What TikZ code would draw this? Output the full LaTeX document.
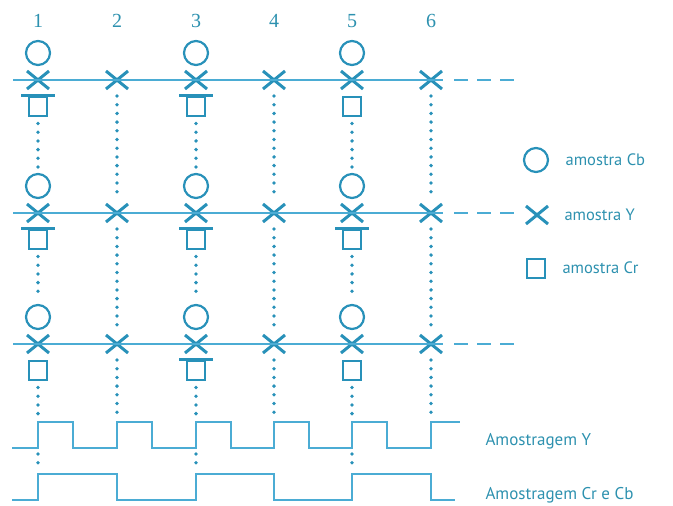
\documentclass[tikz,border=0pt]{standalone}
\usepackage{fontspec}
\setmainfont{PT Sans}
\newfontfamily\numfont{Liberation Serif}
\usetikzlibrary{shapes.misc,positioning}
\definecolor{cyanline}{RGB}{75,172,212}
\definecolor{cyanmark}{RGB}{40,145,185}
\definecolor{cyantext}{RGB}{45,145,175}
\tikzset{
  ymark/.style={cross out,draw=cyanmark,line width=3pt,minimum width=19pt,minimum height=15pt,inner sep=0pt},
  cbmark/.style={circle,draw=cyanmark,line width=2.2pt,minimum size=24pt,inner sep=0pt},
  crmark/.style={rectangle,draw=cyanmark,line width=2pt,minimum width=18pt,minimum height=19pt,inner sep=0pt},
  rowline/.style={cyanline,line width=2.2pt},
  dotline/.style={cyanmark,line width=3.8pt,line cap=round,dash pattern=on 0pt off 8.7pt,shorten <=7pt,shorten >=5pt},
  pulse/.style={cyanline,line width=2.3pt},
  lbl/.style={text=cyantext,font=\fontsize{16.5}{19}\selectfont,anchor=west},
  siglbl/.style={text=cyantext,font=\fontsize{17}{20}\selectfont,anchor=west},
  collbl/.style={text=cyantext,font=\numfont\fontsize{20}{22}\selectfont},
}
\begin{document}
\begin{tikzpicture}[x=1pt,y=-1pt]
\useasboundingbox (0,0) rectangle (673,506);
% column numbers and sample marks
\foreach \c/\x in {1/38,2/117,3/196,4/274,5/352,6/431}{
  \node[collbl] (n\c) at (\x,21) {\c};
  \foreach \r/\y in {1/80,2/213,3/344}
    \node[ymark] (y\c\r) at (\x,\y) {};
  \coordinate (b\c) at (\x,420);
}
\foreach \c/\x in {1/38,3/196,5/352}{
  \foreach \r/\y in {1/80,2/213,3/344}{
    \node[cbmark] (o\c\r) at (\x,\y-27) {};
    \node[crmark] (q\c\r) at (\x,\y+26) {};
  }
  \coordinate (s\c) at (\x,454);
  \coordinate (t\c) at (\x,470);
}
% bars over the Cr squares
\foreach \q in {q11,q12,q31,q32,q33,q52}
  \draw[cyanmark,line width=2.2pt] ([xshift=-7pt]\q.north west) -- ([xshift=7pt]\q.north east);
% rows
\foreach \r/\y in {1/80,2/213,3/344}{
  \coordinate (a\r) at (13,\y);
  \coordinate (e\r) at (515,\y);
  \draw[rowline] (a\r) -- (y1\r.center) -- (y2\r.center) -- (y3\r.center) -- (y4\r.center) -- (y5\r.center) -- (y6\r.center) -- ++(12,0);
  \draw[rowline,dash pattern=on 14pt off 9pt] ([xshift=23pt]y6\r.center) -- (e\r);
}
% dotted columns
\foreach \c in {1,3,5}{
  \draw[dotline] (q\c1) -- (o\c2);
  \draw[dotline] (q\c2) -- (o\c3);
  \draw[dotline] (q\c3) -- (b\c);
  \draw[dotline,shorten <=0pt,shorten >=0pt] (s\c) -- (t\c);
}
\foreach \c in {2,4,6}{
  \draw[dotline] (y\c1) -- (y\c2);
  \draw[dotline] (y\c2) -- (y\c3);
  \draw[dotline] (y\c3) -- (b\c);
}
% sampling signals
\draw[pulse] (12,448) \foreach \x in {38,117,196,274,352} { -- (\x,448) -- (\x,422) -- (\x+35,422) -- (\x+35,448) } -- (431,448) -- (431,422) -- (460,422);
\draw[pulse] (12,500) -- (38,500) -- (38,474) -- (117,474) -- (117,500) -- (196,500) -- (196,474) -- (274,474) -- (274,500) -- (352,500) -- (352,474) -- (431,474) -- (431,500) -- (455,500);
\node[siglbl] (ampy) at (482,441) {Amostragem Y};
\node[siglbl] (ampc) at (482,495) {Amostragem Cr e Cb};
% legend
\node[cbmark] (legcb) at (536,160) {};
\node[ymark] (legy) at (537,215) {};
\node[crmark] (legcr) at (536,268) {};
\node[lbl,right=13pt of legcb] (txtcb) {amostra Cb};
\node[lbl,right=13pt of legy] (txty) {amostra Y};
\node[lbl,right=13pt of legcr] (txtcr) {amostra Cr};
\end{tikzpicture}
\end{document}
